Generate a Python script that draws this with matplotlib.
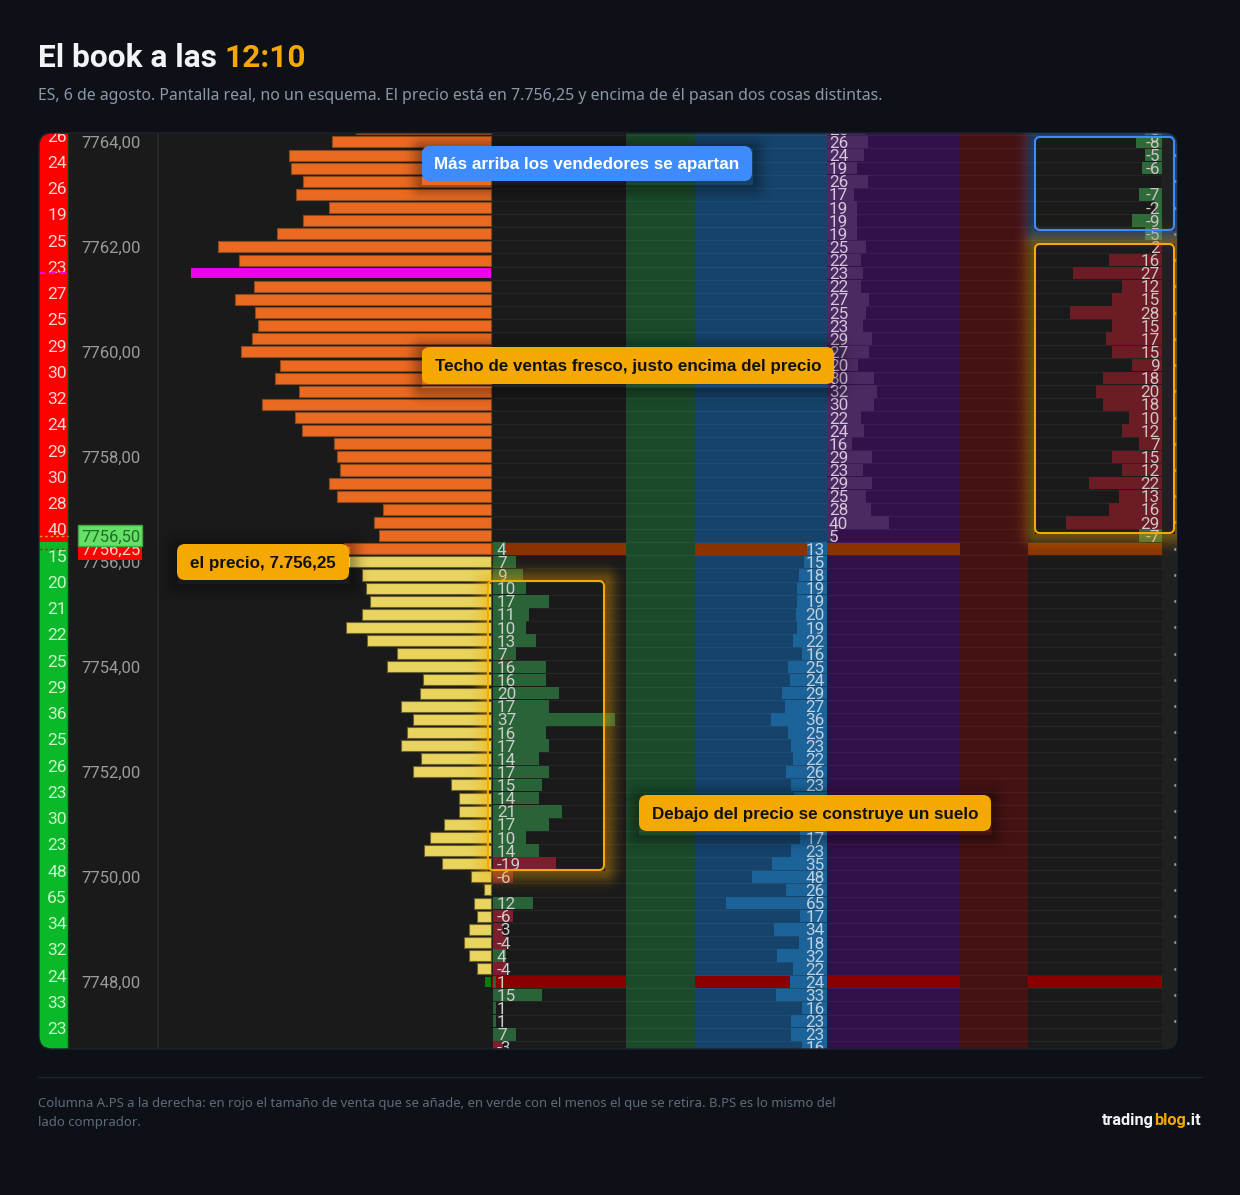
import numpy as np
import matplotlib
matplotlib.use('Agg')
import matplotlib.pyplot as plt
from matplotlib.patches import FancyBboxPatch

W, H = 1240, 1195
BG = '#0d1017'
AMBER = '#f5a800'
BLUE = '#3d8bfd'

# rows of the ladder, first one is 7764,25 (cut by the top of the panel)
prices = 7764.25 - 0.25 * np.arange(71)

# volume profile, left side
ask_profile = [135, 159, 202, 200, 188, 195, 162, 188, 214, 273, 252, 300, 237, 256, 236, 233, 239,
               250, 211, 216, 192, 229, 196, 189, 157, 154, 151, 162, 154, 108, 117, 112, 147]
bid_profile = [144, 129, 125, 121, 129, 145, 124, 94, 104, 68, 71, 90, 78, 84, 90, 70, 78, 40, 32,
               32, 47, 61, 67, 49, 20, 7, 17, 14, 22, 27, 22, 14]

strip_red = [26, 24, 26, 19, 25, 23, 27, 25, 29, 30, 32, 24, 29, 30, 28, 40]
strip_green = [15, 20, 21, 22, 25, 29, 36, 25, 26, 23, 30, 23, 48, 65, 34, 32, 24, 33, 23]

price_ticks = [7764, 7762, 7760, 7758, 7756, 7754, 7752, 7750, 7748]

# B.PS from 7756,25 down
bps = [4, 7, 9, 10, 17, 11, 10, 13, 7, 16, 16, 20, 17, 37, 16, 17, 14, 17, 15, 14, 21, 17, 10, 14,
       -19, -6, None, 12, -6, -3, -4, 4, -4, 1, 15, 1, 1, 7, -3]
# bid size from 7756,25 down (three rows sit behind the callout, their bars are a guess)
bid_size = [13, 15, 18, 19, 19, 20, 19, 22, 16, 25, 24, 29, 27, 36, 25, 23, 22, 26, 23, 21, 20, 18,
            17, 23, 35, 48, 26, 65, 17, 34, 18, 32, 22, 24, 33, 16, 23, 23, 16]
hidden_bid_rows = [19, 20, 21]
# ask size from 7764,25 down to 7756,50
ask_size = [25, 26, 24, 19, 26, 17, 19, 19, 19, 25, 22, 23, 22, 27, 25, 23, 29, 27, 20, 30, 32, 30,
            22, 24, 16, 29, 23, 29, 25, 28, 40, 5]
# A.PS from 7764,25 down to 7756,50
aps = [-5, -8, -5, -6, None, -7, -2, -9, -5, 2, 16, 27, 12, 15, 28, 15, 17, 15, 9, 18, 20, 18, 10,
       12, 7, 15, 12, 22, 13, 16, 29, -7]

LAST_ASK = 7756.25
MAGENTA_ROW = 11
RED_ROW = 7748.0

plt.rcParams['font.family'] = ['Roboto', 'DejaVu Sans']

fig = plt.figure(figsize=(W / 100, H / 100), dpi=100, facecolor=BG)

# panel, x in pixels and y in price
ax = fig.add_axes([39 / W, 1 - 1049 / H, (1177 - 39) / W, (1049 - 133) / H], facecolor='#1a1a1a')
ax.set_xlim(39, 1177)
ax.set_ylim(7746.72, 7764.17)
ax.axis('off')
ax.add_patch(plt.Rectangle((39, 7746), 1138, 20, fc='#1a1a1a', ec='none', zorder=0))

# columns
top_edge = 7756.375
ax.axvspan(39, 68, ymin=0, ymax=1, fc='#0ab82a', ec='none', zorder=1)
ax.fill_between([39, 68], top_edge, 7765, color='#ff0000', lw=0, zorder=1)
ax.axvline(68, color='#1a3a1a', lw=1, zorder=2)
ax.axvline(158, color='#272727', lw=1.5, zorder=1)
ax.axvspan(626, 695, fc='#1a4a2a', ec='none', zorder=1)
ax.axvspan(695, 827, fc='#15436b', ec='none', zorder=1)
ax.axvspan(827, 960, fc='#34104a', ec='none', zorder=1)
ax.axvspan(960, 1028, fc='#451213', ec='none', zorder=1)
ax.axvspan(1162, 1177, fc='#202020', ec='none', zorder=1)

# row lines
edges = prices + 0.125
ax.hlines(edges, 492, 1162, color='#ffffff', alpha=0.05, lw=0.9, zorder=2)

# special rows across the columns
for row, col in [(LAST_ASK, '#8a3300'), (RED_ROW, '#8a0000')]:
    for x0, x1 in [(492, 626), (695, 827), (827, 960), (1028, 1162)]:
        ax.barh(row, x1 - x0, left=x0, height=0.235, color=col, zorder=3)

# profile bars
ask_rows = prices[:len(ask_profile)]
for i, (p, v) in enumerate(zip(ask_rows, ask_profile)):
    if i == MAGENTA_ROW:
        ax.barh(p, v, left=491.5 - v, height=0.2, color='#ee00ee', zorder=3)
    else:
        ax.barh(p, v, left=491.5 - v, height=0.21, color='#eb6a22', edgecolor='#8a4a20', lw=0.8, zorder=3)
bid_rows = prices[len(ask_profile):]
for p, v in zip(bid_rows, bid_profile):
    ax.barh(p, v, left=491.5 - v, height=0.21, color='#e8d45f', edgecolor='#6b5f2a', lw=0.8, zorder=3)
ax.barh(RED_ROW, 6, left=485, height=0.2, color='#0a7a0a', zorder=3)

BPS_PX = 3.3
SIZE_PX = 1.56
VALUE_FS = 12.3
TXT_DROP = 0.03

# B.PS, bars go right
rows_low = prices[32:]
for p, v in zip(rows_low, bps):
    if v is None:
        continue
    col = '#2a6338' if v > 0 else '#7a1f2e'
    ax.barh(p, abs(v) * BPS_PX, left=493, height=0.24, color=col, zorder=4)
    ax.text(497, p - TXT_DROP, str(v), color='#c9cfc9', fontsize=VALUE_FS, ha='left', va='center', zorder=6)

# bid size, bars go left from the purple column
for i, (p, v) in enumerate(zip(rows_low, bid_size)):
    ax.barh(p, v * SIZE_PX, left=827 - v * SIZE_PX, height=0.24, color='#1c6399', zorder=4)
    if i not in hidden_bid_rows:
        ax.text(825, p - TXT_DROP, str(v), color='#bcd0df', fontsize=VALUE_FS, ha='right', va='center', zorder=6)

# ask size, bars go right
rows_high = prices[:len(ask_size)]
for p, v in zip(rows_high, ask_size):
    ax.barh(p, v * SIZE_PX, left=827, height=0.24, color='#4a2a60', zorder=4)
    ax.text(829, p - TXT_DROP, str(v), color='#d5c5dd', fontsize=VALUE_FS, ha='left', va='center', zorder=6)

# A.PS, bars go left
for p, v in zip(rows_high, aps):
    if v is None:
        continue
    col = '#6b1c24' if v > 0 else '#2f6b3a'
    ax.barh(p, abs(v) * BPS_PX, left=1162 - abs(v) * BPS_PX, height=0.24, color=col, zorder=4)
    ax.text(1160, p - TXT_DROP, str(v), color='#cfc4c4', fontsize=VALUE_FS, ha='right', va='center', zorder=6)

# left strip labels, every two rows
strip_prices = 7764.10 - 0.5 * np.arange(len(strip_red) + len(strip_green))
for p, v in zip(strip_prices[:len(strip_red)], strip_red):
    ax.text(67, p - 0.01, str(v), color='#ffd2d2', fontsize=12.6, ha='right', va='center', zorder=6)
for p, v in zip(strip_prices[len(strip_red):], strip_green):
    ax.text(67, p - 0.01, str(v), color='#c8f5c8', fontsize=12.6, ha='right', va='center', zorder=6)

# dashes on the strip
ax.plot([39, 68], [prices[MAGENTA_ROW]] * 2, color='#ee00ee', lw=1.5, ls=(0, (3, 2)), zorder=7)
ax.plot([39, 68], [7756.5] * 2, color='#d9a020', lw=1, ls=(0, (2, 2)), zorder=7)
ax.plot([39, 68], [7756.25] * 2, color='#c81e1e', lw=1, ls=(0, (2, 2)), zorder=7)

# tiny marks on the far right
mark_rows = prices[::2]
ax.plot(np.full_like(mark_rows, 1175), mark_rows, ls='none', marker='o', ms=1.2, color='#8a8a8a', zorder=3)

# price scale
for p in price_ticks:
    ax.text(81, p - TXT_DROP, f'{p},00', color='#9b9b9b', fontsize=12, ha='left', va='center', zorder=6)
ax.barh(7756.17, 64, left=78, height=0.26, color='#ff0000', zorder=7)
ax.text(81, 7756.22, '7756,25', color='#ffd0d0', fontsize=12, ha='left', va='center', zorder=8)
ax.barh(7756.5, 64, left=78, height=0.4, color='#66e066', edgecolor='#3fa83f', lw=1, zorder=9)
ax.text(81, 7756.46, '7756,50', color='#1f6e2a', fontsize=12, ha='left', va='center', zorder=10)

# everything on top, in figure pixels
top = fig.add_axes([0, 0, 1, 1], facecolor='none')
top.set_xlim(0, W)
top.set_ylim(H, 0)
top.axis('off')

panel_shape = FancyBboxPatch((39, 133), 1138, 916, boxstyle='round,pad=0,rounding_size=13',
                             transform=top.transData, fc='none', ec='#1c222c', lw=1, zorder=1)
top.add_patch(panel_shape)
for art in ax.get_children():
    if art is not ax.patch and art not in ax.spines.values():
        art.set_clip_on(True)
        art.set_clip_path(panel_shape)


def soft_rect(x0, y0, x1, y1, color, strength, spread):
    # glow outside a rectangle, nothing inside it, cut by the panel
    m = int(spread * 3)
    xs = np.arange(x0 - m, x1 + m)
    ys = np.arange(y0 - m, y1 + m)
    gx, gy = np.meshgrid(xs, ys)
    dx = np.maximum(np.maximum(x0 - gx, gx - x1), 0)
    dy = np.maximum(np.maximum(y0 - gy, gy - y1), 0)
    d = np.hypot(dx, dy)
    rgba = np.zeros(d.shape + (4,))
    rgba[..., :3] = matplotlib.colors.to_rgb(color)
    rgba[..., 3] = strength * np.exp(-(d / spread) ** 2) * (d > 0)
    im = top.imshow(rgba, extent=(x0 - m, x1 + m, y1 + m, y0 - m), aspect='auto', zorder=2,
                    interpolation='bilinear')
    im.set_clip_path(panel_shape)


def outline(x0, y0, x1, y1, color, strength):
    soft_rect(x0, y0, x1, y1, color, strength, 12)
    top.add_patch(FancyBboxPatch((x0, y0), x1 - x0, y1 - y0, boxstyle='round,pad=0,rounding_size=5',
                                 fc='none', ec=color, lw=1.5, zorder=3))


outline(488, 581, 604, 870, AMBER, 0.36)
outline(1035, 244, 1174, 533, AMBER, 0.36)
outline(1035, 137, 1174, 230, BLUE, 0.28)


def callout(x0, y0, x1, y1, txt, fc, tc):
    soft_rect(x0, y0 + 3, x1, y1 + 3, '#000000', 0.3, 11)
    top.add_patch(FancyBboxPatch((x0, y0), x1 - x0, y1 - y0, boxstyle='round,pad=0,rounding_size=8',
                                 fc=fc, ec='none', zorder=4))
    top.text((x0 + x1) / 2, (y0 + y1) / 2 + 1, txt, color=tc, fontsize=12.25, fontweight='bold',
             family='Liberation Sans', ha='center', va='center', zorder=5)


callout(422, 146, 752, 181, 'Más arriba los vendedores se apartan', BLUE, 'white')
callout(422, 347, 834, 384, 'Techo de ventas fresco, justo encima del precio', AMBER, '#111111')
callout(177, 544, 349, 580, 'el precio, 7.756,25', AMBER, '#111111')
callout(639, 795, 991, 831, 'Debajo del precio se construye un suelo', AMBER, '#111111')

top.set_xlim(0, W)
top.set_ylim(H, 0)


def text_run(x, y, parts, **kw):
    # texts one after the other, each with its own colour
    r = fig.canvas.get_renderer()
    for s, col in parts:
        t = top.text(x, y, s, color=col, **kw)
        x = top.transData.inverted().transform(t.get_window_extent(r))[1][0]


# header
text_run(38, 67, [('El book a las ', '#f2f4f7'), ('12:10', AMBER)], fontsize=22.8, fontweight='bold',
         family='Roboto', va='baseline')
top.text(38, 100, 'ES, 6 de agosto. Pantalla real, no un esquema. El precio está en 7.756,25 y encima de él '
         'pasan dos cosas distintas.', color='#8b98a8', fontsize=11.45, family='Noto Sans', va='baseline')

# footer
top.plot([38, 1202], [1077, 1077], color='#1d222b', lw=1)
top.text(38, 1107, 'Columna A.PS a la derecha: en rojo el tamaño de venta que se añade, en verde con el menos '
         'el que se retira. B.PS es lo mismo del', color='#5f6b7a', fontsize=9.45, family='Noto Sans', va='baseline')
top.text(38, 1126, 'lado comprador.', color='#5f6b7a', fontsize=9.45, family='Noto Sans', va='baseline')
text_run(1102, 1125, [('trading', '#f2f4f7'), ('blog', AMBER), ('.it', '#f2f4f7')], fontsize=11.7,
         fontweight='bold', family='Roboto', va='baseline')

top.set_xlim(0, W)
top.set_ylim(H, 0)
fig.savefig('out.png', dpi=100, facecolor=BG)
